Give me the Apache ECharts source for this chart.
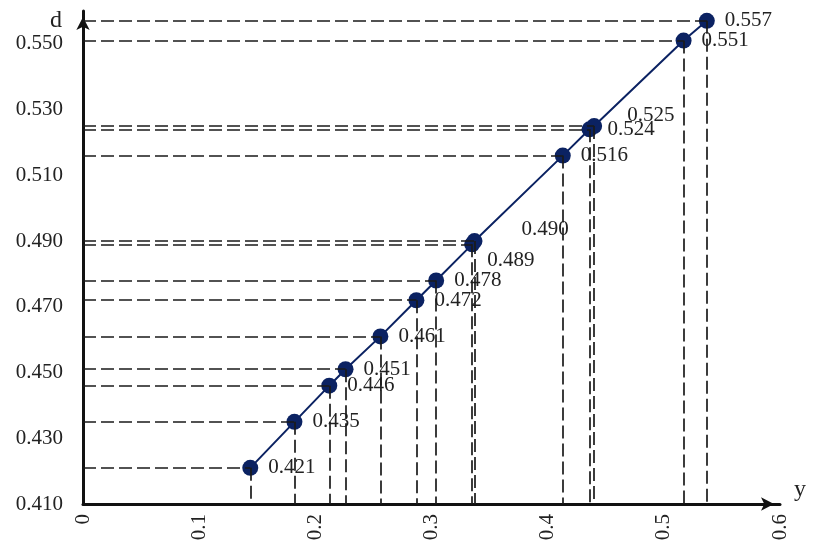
<!DOCTYPE html>
<html>
<head>
<meta charset="utf-8">
<script src="https://cdn.jsdelivr.net/npm/echarts@6/dist/echarts.min.js"></script>
<style>
html,body{margin:0;padding:0;background:#fff;}
#chart{width:816px;height:544px;}
</style>
</head>
<body>
<div id="chart"></div>
<script>
// ---- data ----
const yValues = [0.144, 0.182, 0.212, 0.226, 0.256, 0.287, 0.304, 0.335, 0.337, 0.413, 0.436, 0.440, 0.517, 0.537];
const dValues = [0.421, 0.435, 0.446, 0.451, 0.461, 0.472, 0.478, 0.489, 0.490, 0.516, 0.524, 0.525, 0.551, 0.557];
const xTickLabels = ['0', '0.1', '0.2', '0.3', '0.4', '0.5', '0.6'];
const yTickLabels = ['0.410', '0.430', '0.450', '0.470', '0.490', '0.510', '0.530', '0.550'];

// ---- style ----
const FONT = 'Liberation Serif';
const NAVY = '#0b2262';
const DASH = '#1a1a1a';
const labelOffsets = { 7: [-3, 16], 8: [29, -12], 11: [15, -11] };

const xMin = 0, xMax = 0.6, xStep = 0.1;
const yMin = 0.41, yMax = 0.56, yStep = 0.02;

const points = yValues.map((x, i) => {
  const item = { value: [x, dValues[i]] };
  if (labelOffsets[i]) item.label = { offset: labelOffsets[i] };
  return item;
});

const guideLines = [];
yValues.forEach((x, i) => {
  const d = dValues[i];
  guideLines.push([{ coord: [xMin, d] }, { coord: [x, d] }]);
  guideLines.push([{ coord: [x, d] }, { coord: [x, yMin] }]);
});

const chart = echarts.init(document.getElementById('chart'));
chart.setOption({
  animation: false,
  backgroundColor: '#fff',
  grid: { left: 83, right: 36, top: 11, bottom: 40, containLabel: false },
  xAxis: {
    type: 'value', min: xMin, max: xMax, interval: xStep,
    name: 'y', nameLocation: 'end', nameGap: 14,
    nameTextStyle: { fontFamily: FONT, fontSize: 24, color: '#222', verticalAlign: 'bottom', padding: [0, 0, 2, 0] },
    axisLine: { show: true, symbol: ['none', 'arrow'], symbolSize: [10, 13], symbolOffset: [0, -6], lineStyle: { color: '#111', width: 3 } },
    axisTick: { show: false },
    splitLine: { show: false },
    axisLabel: {
      rotate: 90, margin: 10, fontFamily: FONT, fontSize: 21, color: '#222',
      formatter: v => xTickLabels[Math.round((v - xMin) / xStep)]
    }
  },
  yAxis: {
    type: 'value', min: yMin, max: yMax, interval: yStep,
    name: 'd', nameLocation: 'end', nameGap: 2,
    nameTextStyle: { fontFamily: FONT, fontSize: 24, color: '#222', align: 'right', verticalAlign: 'top', padding: [0, 21, 0, 0] },
    axisLine: { show: true, symbol: ['none', 'arrow'], symbolSize: [10, 13], symbolOffset: [0, -6], lineStyle: { color: '#111', width: 3 } },
    axisTick: { show: false },
    splitLine: { show: false },
    axisLabel: {
      showMaxLabel: false, margin: 20, fontFamily: FONT, fontSize: 21, color: '#222',
      formatter: v => { const k = Math.round((v - yMin) / yStep); return yTickLabels[k] !== undefined ? yTickLabels[k] : ''; }
    }
  },
  series: [
    {
      type: 'line',
      z: 1,
      data: [],
      silent: true,
      markLine: {
        silent: true,
        symbol: ['none', 'none'],
        label: { show: false },
        lineStyle: { color: DASH, width: 1.7, type: [13, 5] },
        emphasis: { disabled: true },
        data: guideLines
      }
    },
    {
      type: 'line',
      z: 3,
      data: points,
      symbol: 'circle',
      symbolSize: 16,
      lineStyle: { color: NAVY, width: 2 },
      itemStyle: { color: NAVY },
      label: {
        show: true, position: 'right', distance: 10,
        fontFamily: FONT, fontSize: 21, color: '#222',
        formatter: p => p.value[1].toFixed(3)
      }
    }
  ]
});
</script>
</body>
</html>
